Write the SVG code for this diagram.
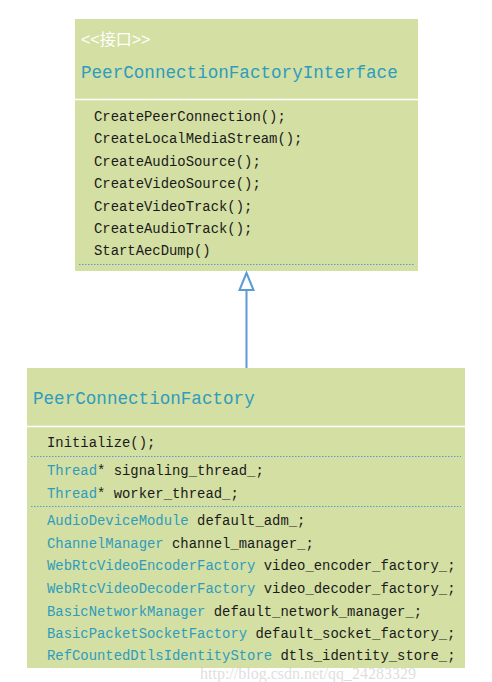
<svg xmlns="http://www.w3.org/2000/svg" width="492" height="682" viewBox="0 0 492 682">
<style>
.box{fill:#d3dfa3}
.sep{stroke:#ffffff;stroke-width:1.5}
.dot{stroke:#5b9bd5;stroke-width:1;stroke-dasharray:1.5 1.5}
.t{font-family:"Liberation Mono","DejaVu Sans Mono",monospace;font-size:13.9px;fill:#1a1a1a}
.c{fill:#2f9cbd}
.title{font-family:"Liberation Mono","DejaVu Sans Mono",monospace;font-size:17.6px;fill:#2f9cbd}
.st{font-family:"Liberation Sans","Noto Sans CJK SC",sans-serif;font-size:16px;fill:#ffffff}
.wm{font-family:"Liberation Serif",serif;font-size:16px;fill:#c8c8c8;fill-opacity:0.6}
</style>
<rect width="492" height="682" fill="#ffffff"/>
<g id="interface">
<rect class="box" x="75" y="19" width="343" height="252"/>
<line class="sep" x1="75" y1="99.5" x2="418" y2="99.5"/>
<text class="st" x="81" y="45">&lt;&lt;接口&gt;&gt;</text>
<text class="title" x="81" y="78">PeerConnectionFactoryInterface</text>
<text class="t" x="94" y="121">CreatePeerConnection();</text>
<text class="t" x="94" y="143">CreateLocalMediaStream();</text>
<text class="t" x="94" y="166">CreateAudioSource();</text>
<text class="t" x="94" y="188">CreateVideoSource();</text>
<text class="t" x="94" y="211">CreateVideoTrack();</text>
<text class="t" x="94" y="233">CreateAudioTrack();</text>
<text class="t" x="94" y="255">StartAecDump()</text>
<line class="dot" x1="79" y1="264.5" x2="414" y2="264.5"/>
</g>
<g id="factory">
<rect class="box" x="27" y="368" width="438" height="300"/>
<line class="sep" x1="27" y1="426.5" x2="465" y2="426.5"/>
<text class="title" x="33" y="404">PeerConnectionFactory</text>
<text class="t" x="47" y="447">Initialize();</text>
<line class="dot" x1="31" y1="456.5" x2="461" y2="456.5"/>
<text class="t" x="47" y="475"><tspan class="c">Thread</tspan>* signaling_thread_;</text>
<text class="t" x="47" y="498"><tspan class="c">Thread</tspan>* worker_thread_;</text>
<line class="dot" x1="31" y1="506.5" x2="461" y2="506.5"/>
<text class="t" x="47" y="525"><tspan class="c">AudioDeviceModule</tspan> default_adm_;</text>
<text class="t" x="47" y="548"><tspan class="c">ChannelManager</tspan> channel_manager_;</text>
<text class="t" x="47" y="570"><tspan class="c">WebRtcVideoEncoderFactory</tspan> video_encoder_factory_;</text>
<text class="t" x="47" y="593"><tspan class="c">WebRtcVideoDecoderFactory</tspan> video_decoder_factory_;</text>
<text class="t" x="47" y="616"><tspan class="c">BasicNetworkManager</tspan> default_network_manager_;</text>
<text class="t" x="47" y="638"><tspan class="c">BasicPacketSocketFactory</tspan> default_socket_factory_;</text>
<text class="t" x="47" y="660"><tspan class="c">RefCountedDtlsIdentityStore</tspan> dtls_identity_store_;</text>
</g>
<g id="connectors">
<line x1="246.5" y1="290" x2="246.5" y2="368" stroke="#5b9bd5" stroke-width="2"/>
<polygon points="246.5,273 239.5,290 253.5,290" fill="#ffffff" stroke="#5b9bd5" stroke-width="2" stroke-linejoin="miter"/>
</g>
<text class="wm" x="200" y="679">http://blog.csdn.net/qq_24283329</text>
</svg>
